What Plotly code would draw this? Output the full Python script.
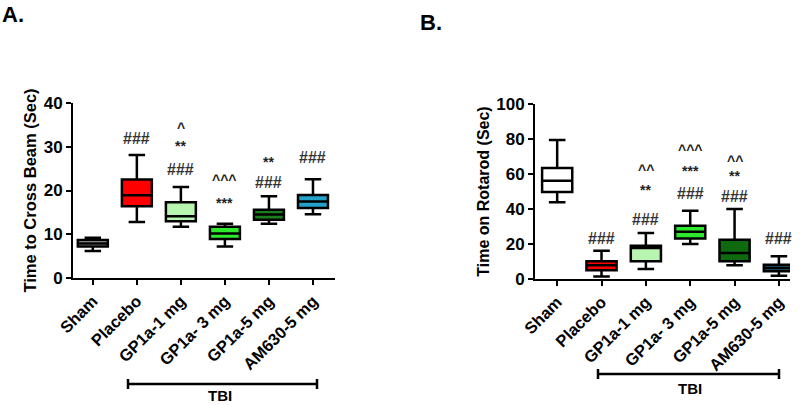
import plotly.graph_objects as go

groups = ["Sham", "Placebo", "GP1a-1 mg", "GP1a- 3 mg", "GP1a-5 mg", "AM630-5 mg"]

# Panel A: Time to Cross Beam (Sec)
a_low = [6.2, 12.8, 11.7, 7.2, 12.4, 14.6]
a_q1 = [7.2, 16.4, 13.0, 8.9, 13.3, 16.0]
a_med = [7.9, 18.9, 14.1, 10.2, 14.5, 17.5]
a_q3 = [8.7, 22.5, 17.3, 11.7, 15.6, 19.0]
a_high = [9.2, 28.1, 20.8, 12.4, 18.7, 22.6]
a_colors = ["#a8a8a8", "#ff0000", "#b8f5b0", "#2ee82e", "#1a7f1a", "#22a2c8"]

# Panel B: Time on Rotarod (Sec)
b_low = [43.8, 1.5, 5.7, 20.0, 7.8, 1.9]
b_q1 = [49.7, 5.0, 10.1, 23.2, 10.1, 4.4]
b_med = [56.2, 7.8, 17.7, 27.0, 14.9, 6.3]
b_q3 = [63.4, 10.1, 19.0, 30.5, 22.5, 8.2]
b_high = [79.4, 16.2, 26.3, 39.0, 40.0, 13.0]
b_colors = ["#ffffff", "#ff0000", "#b8f5b0", "#2ee82e", "#0f6a0f", "#1c5e70"]

# Significance marks: (group index, text, y value)
a_marks = [(1, "###", 32.0), (2, "^", 34.3), (2, "**", 30.1), (2, "###", 24.8),
           (3, "^^^", 22.5), (3, "***", 17.1), (4, "**", 26.5), (4, "###", 21.9),
           (5, "###", 27.6)]
b_marks = [(1, "###", 23.4), (2, "^^", 62.5), (2, "**", 50.7), (2, "###", 33.9),
           (3, "^^^", 73.9), (3, "***", 61.5), (3, "###", 48.6),
           (4, "^^", 67.6), (4, "**", 58.7), (4, "###", 47.2), (5, "###", 22.9)]

FONT = "Liberation Sans, Arial, sans-serif"
fig = go.Figure()

def add_panel(low, q1, med, q3, high, colors, xa, ya):
    for i in range(len(groups)):
        fig.add_trace(go.Box(
            x=[i], lowerfence=[low[i]], q1=[q1[i]], median=[med[i]], q3=[q3[i]],
            upperfence=[high[i]], fillcolor=colors[i],
            line=dict(color="black", width=2.5), width=0.68, whiskerwidth=0.55,
            xaxis=xa, yaxis=ya, showlegend=False, hoverinfo="skip"))

add_panel(a_low, a_q1, a_med, a_q3, a_high, a_colors, "x", "y")
add_panel(b_low, b_q1, b_med, b_q3, b_high, b_colors, "x2", "y2")

def mark_font(t):
    if t.startswith("#"):
        return dict(family=FONT, size=16, color="#333", weight="bold")
    return dict(family=FONT, size=14, color="#222", weight="bold")

ann = []
for (i, t, y) in a_marks:
    ann.append(dict(x=i, y=y, xref="x", yref="y", text=t, showarrow=False,
                    font=mark_font(t), yanchor="middle"))
for (i, t, y) in b_marks:
    ann.append(dict(x=i, y=y, xref="x2", yref="y2", text=t, showarrow=False,
                    font=mark_font(t), yanchor="middle"))

ann += [
    dict(x=0.0, y=1.0, xref="paper", yref="paper", text="<b>A.</b>", showarrow=False,
         xanchor="left", yanchor="top", font=dict(family=FONT, size=22, color="black")),
    dict(x=418/800, y=1 - 8/405, xref="paper", yref="paper", text="<b>B.</b>", showarrow=False,
         xanchor="left", yanchor="top", font=dict(family=FONT, size=22, color="black")),
    dict(x=220/800, y=1 - 395/405, xref="paper", yref="paper", text="<b>TBI</b>", showarrow=False,
         xanchor="center", yanchor="middle", font=dict(family=FONT, size=15, color="black")),
    dict(x=690/800, y=1 - 388/405, xref="paper", yref="paper", text="<b>TBI</b>", showarrow=False,
         xanchor="center", yanchor="middle", font=dict(family=FONT, size=15, color="black")),
]

shapes = []
def bracket(x0, x1, y):
    yy = 1 - y / 405
    shapes.append(dict(type="line", xref="paper", yref="paper", x0=x0/800, x1=x1/800, y0=yy, y1=yy,
                       line=dict(color="black", width=2.5)))
    for xx in (x0, x1):
        shapes.append(dict(type="line", xref="paper", yref="paper", x0=xx/800, x1=xx/800,
                           y0=yy - 5/405, y1=yy + 5/405, line=dict(color="black", width=2.5)))
bracket(128, 317, 384)
bracket(598, 779, 374)

tickfont = dict(family=FONT, size=17, color="black", weight="bold")
xtickfont = dict(family=FONT, size=16.5, color="black", weight="bold")
common_x = dict(tickmode="array", tickvals=list(range(6)), ticktext=groups, tickangle=-45,
                showline=True, linecolor="black", linewidth=2, ticks="outside", ticklen=5,
                tickwidth=2, tickcolor="black", showgrid=False, zeroline=False, tickfont=xtickfont,
                automargin=False)
common_y = dict(showline=True, linecolor="black", linewidth=2, ticks="outside", ticklen=5,
                tickwidth=2, tickcolor="black", showgrid=False, zeroline=False, tickfont=tickfont,
                automargin=False)

fig.update_layout(
    template="none",
    width=800, height=405, margin=dict(l=0, r=0, t=0, b=0),
    paper_bgcolor="white", plot_bgcolor="white",
    xaxis=dict(domain=[73/800, 335/800], range=[-0.45, 5.5], anchor="y", **common_x),
    yaxis=dict(domain=[127/405, 302/405], range=[0, 40], tickvals=[0, 10, 20, 30, 40], anchor="x",
               title=dict(text="Time to Cross Beam (Sec)", standoff=3,
                          font=dict(family=FONT, size=16.5, color="black", weight="bold")), **common_y),
    xaxis2=dict(domain=[535/800, 790/800], range=[-0.5, 5.25], anchor="y2", **common_x),
    yaxis2=dict(domain=[126/405, 301/405], range=[0, 100], tickvals=[0, 20, 40, 60, 80, 100], anchor="x2",
                title=dict(text="Time on Rotarod (Sec)", standoff=3,
                           font=dict(family=FONT, size=16, color="black", weight="bold")), **common_y),
    annotations=ann, shapes=shapes,
)

fig.write_html("out.html", config={"displayModeBar": False},
               post_script="document.body.style.margin='0';document.body.style.overflow='hidden';")
